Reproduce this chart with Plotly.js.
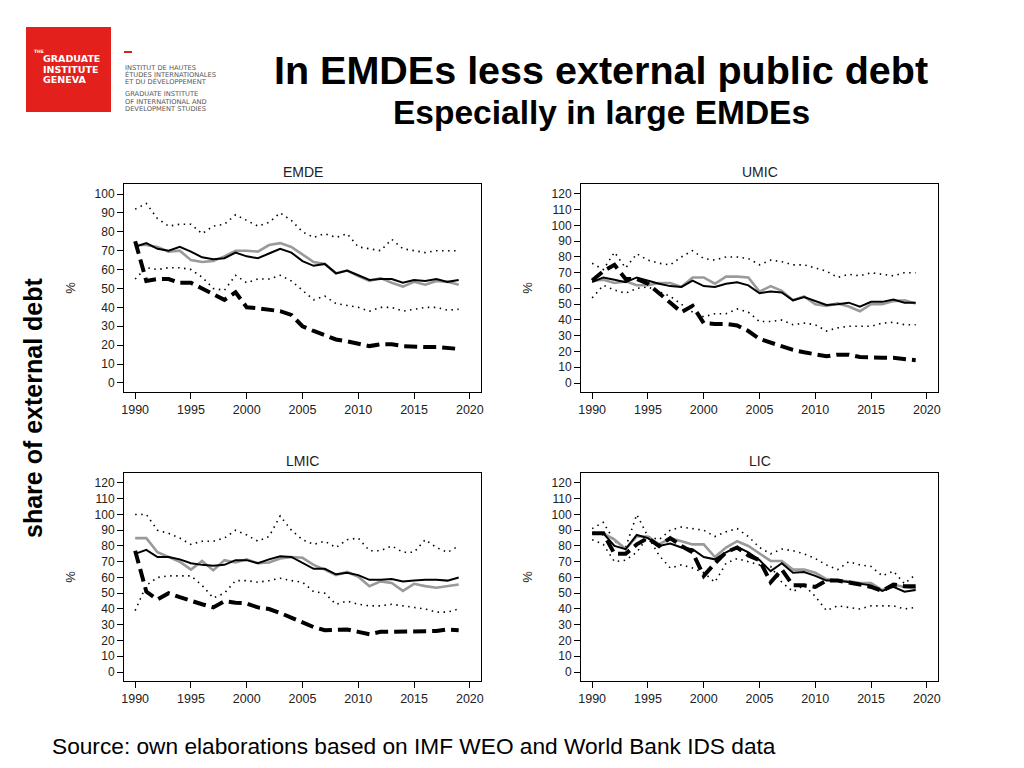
<!DOCTYPE html>
<html>
<head>
<meta charset="utf-8">
<script src="https://cdn.plot.ly/plotly-3.0.1.min.js"></script>
<style>html,body{margin:0;padding:0;background:#fff;}#chart{width:1024px;height:768px;}</style>
</head>
<body>
<div id="chart"></div>
<script>
var years = [1990,1991,1992,1993,1994,1995,1996,1997,1998,1999,2000,2001,2002,2003,2004,2005,2006,2007,2008,2009,2010,2011,2012,2013,2014,2015,2016,2017,2018,2019];
var xTicks = [1990,1995,2000,2005,2010,2015,2020];
var panelNames = ["EMDE","UMIC","LMIC","LIC"];

var emdeBlack  = [72,74,71,70,72,69.5,66.5,65.5,66,69,67,66,68.5,71,69,64.5,62,63,58,59.5,57,54.5,55,55,53,54.5,54,55,53.5,54.5];
var emdeGrey   = [73,73,72,69.5,70,65,64,64.5,67,70,70,69.5,73,74,72,68,64,63,58,59.5,56.5,54,55.5,53,51,53.5,52,54,53.5,52];
var emdeDashed = [75,54,55,55,53,53,50,47,44,48,40,39.5,39,38,36,30,27.5,25,23,22,20.5,19.5,20.5,20.5,19.5,19,19,19,18.5,18];
var emdeUpper  = [92,95,87,83,84,84,79,83,84,89,86,83,85,90,86,80,77,79,77,79,72,71,70,76,71,70,69,70,70,70];
var emdeLower  = [55,61,60,61,61,60,56,50,49,57,53,55,55,57,54,49,44,46,42,41,40,38,40,40,38,39,40,40,38.5,39];

var umicBlack  = [64,67,65.5,64,67,65,63,61.5,61,65,61.5,61,63,64,62,57,58,57.5,52.5,54.5,52,49.5,50,51,48.5,51.5,51.5,53,51,51];
var umicGrey   = [65,65.5,63.5,64.5,62,62,63.5,63.5,61,67,67,63,67.5,67.5,67,58,61.5,58.5,52.5,55,50,49,50.5,48.5,45.5,50,50,52,52.5,50.5];
var umicDashed = [65,71,75,66,66,63,57,51,45,49,38,37.5,37.5,36.5,33,28,25.5,23.5,21,19.5,18,17,18,18,16.5,16,16,16,15,14.5];
var umicUpper  = [76,72,83,73,82,78,76,75,80,84,79,78,80,80,79,75,78,77,75,75,73,71,67,69,68,70,69,68,70,70];
var umicLower  = [54,62,59,57,60,61,58,55,50,45,42,44,44,47,45,39,39,40,37,38,37,33,35,36,36,36,38,38.5,37,37];

var lmicBlack  = [75,77.5,73,73,71.5,69,68,67.5,68,71,71,69,71.5,73.5,73,69,65.5,65.5,62,63,61.5,58.5,58.5,59,57.5,58,58.5,58.5,58,60];
var lmicGrey   = [85,85,76,73,70,65,70.5,64.5,71,69.5,71.5,69,69.5,72,73,72.5,68,65,61.5,63.5,60.5,54.5,57.5,56.5,51.5,56,54.5,53.5,54.5,55.5];
var lmicDashed = [77,51,46,50,47.5,45,43,41,45,44,43.5,41,40,37.5,34.5,31,28.5,26.5,27,27,25.5,24,25.5,25.5,26,26,25.5,26,27,26.5];
var lmicUpper  = [100,100,90,88,85,81,83,83,85,90,87,83,86,99,90,84,81,83,79,84,85,77,77,80,76,76,84,79,76,80];
var lmicLower  = [39,55,60,61,61,61,55,47,50,58,58,57,58,59.5,58,57,51,50,43,45,43,42,42,43,42,41,40,38,38,40];

var licBlack   = [88,88,80,78,87,85,80,81.5,79,78,73,71.5,76,79.5,76,71,64,69,63,63.5,61,58,58,57,56,55,51.5,54,51,52];
var licGrey    = [88,88,84,78,86,86,81,85,83,81,81,73,79,83,80,75,70.5,70.5,65,65,63,59,58,57.5,56.5,56.5,52,55.5,54,53];
var licDashed  = [88,88,75,75,81,85,80,85,80,76,61,69,76,79,74,71,57,65,55,55,54,58,58,57,55.5,54,51.5,55.5,54.5,54.5];
var licUpper   = [91,95,83,79,100,86,84,90,92,91,90,86,89,91,86,79,75,78,77,75,72,68,65,70,68,67,61,64,56,62];
var licLower   = [84,81,70,71,76,86,74,66,68,66,63,57,69,72,70,68,67,57,51,55,48,39,42,41,40,42,42,42,40,41];

var panelSeries = [
  [emdeUpper, emdeLower, emdeGrey, emdeBlack, emdeDashed],
  [umicUpper, umicLower, umicGrey, umicBlack, umicDashed],
  [lmicUpper, lmicLower, lmicGrey, lmicBlack, lmicDashed],
  [licUpper, licLower, licGrey, licBlack, licDashed]
];
var yTopVals = [100, 120, 120, 120];

(function(){
var styles = [
  {color:'#000', width:1.6, dash:'1.5px,4.5px'},
  {color:'#000', width:1.6, dash:'1.5px,4.5px'},
  {color:'#9a9a9a', width:2.6, dash:'solid'},
  {color:'#000', width:2, dash:'solid'},
  {color:'#000', width:4, dash:'13px,6px'}
];

var W = 1024, H = 768;
function px(x){return x/W;}
function py(y){return 1 - y/H;}
var frames = [
  {x0:124, x1:481, y0:184, y1:392},
  {x0:581, x1:938, y0:184, y1:392},
  {x0:124, x1:481, y0:473, y1:681},
  {x0:581, x1:938, y0:473, y1:681}
];

var traces = [];
var layout = {
  width: W, height: H,
  margin: {l:0, r:0, t:0, b:0},
  paper_bgcolor:'#fff', plot_bgcolor:'#fff',
  showlegend:false,
  font:{family:'Liberation Sans, Arial, sans-serif', color:'#222'},
  annotations: [], shapes: []
};

for (var p = 0; p < 4; p++) {
  var suf = p === 0 ? '' : String(p+1);
  for (var s = 0; s < 5; s++) {
    traces.push({
      x: years, y: panelSeries[p][s], type:'scatter', mode:'lines',
      xaxis:'x'+suf, yaxis:'y'+suf,
      line:{color:styles[s].color, width:styles[s].width, dash:styles[s].dash},
      hoverinfo:'skip'
    });
  }
  var f = frames[p];
  var yTop = yTopVals[p];
  var padLo = yTop === 100 ? 4.8 : 5.7;
  var padHi = yTop === 100 ? 5.3 : 6.3;
  var yvals = [];
  for (var v = 0; v <= yTop; v += 10) yvals.push(v);
  layout['xaxis'+suf] = {
    domain:[px(f.x0), px(f.x1)], anchor:'y'+suf,
    range:[1989, 2021], tickvals:xTicks, ticks:'outside', ticklen:6, tickcolor:'#000',
    showline:true, mirror:true, linecolor:'#000', linewidth:1, showgrid:false, zeroline:false,
    tickfont:{size:12.5, color:'#222'}, fixedrange:true
  };
  layout['yaxis'+suf] = {
    domain:[py(f.y1), py(f.y0)], anchor:'x'+suf,
    range:[-padLo, yTop + padHi], tickvals:yvals, ticks:'outside', ticklen:6, tickcolor:'#000',
    showline:true, mirror:true, linecolor:'#000', linewidth:1, showgrid:false, zeroline:false,
    tickfont:{size:12, color:'#222'}, fixedrange:true,
    title:{text:'%', font:{size:13, color:'#222'}, standoff:16}
  };
  layout.annotations.push({
    xref:'paper', yref:'paper', x:px((f.x0+f.x1)/2), y:py(f.y0-12),
    text:panelNames[p], showarrow:false, xanchor:'center', yanchor:'middle',
    font:{size:14, color:'#222'}
  });
}

var narrow = 'Liberation Sans Narrow, Arial Narrow, Liberation Sans, sans-serif';
layout.annotations.push({xref:'paper', yref:'paper', x:px(601), y:py(70), text:'<b>In EMDEs less external public debt</b>', showarrow:false, xanchor:'center', yanchor:'middle', font:{family:narrow, size:39.5, color:'#000'}});
layout.annotations.push({xref:'paper', yref:'paper', x:px(601), y:py(113), text:'<b>Especially in large EMDEs</b>', showarrow:false, xanchor:'center', yanchor:'middle', font:{family:narrow, size:33.5, color:'#000'}});
layout.annotations.push({xref:'paper', yref:'paper', x:px(33), y:py(408), text:'<b>share of external debt</b>', textangle:-90, showarrow:false, xanchor:'center', yanchor:'middle', font:{size:25, color:'#000'}});
layout.annotations.push({xref:'paper', yref:'paper', x:px(50), y:py(746), text:'Source: own elaborations based on IMF WEO and World Bank IDS data', showarrow:false, xanchor:'left', yanchor:'middle', font:{size:22.7, color:'#000'}});

layout.shapes.push({type:'rect', xref:'paper', yref:'paper', x0:px(26), x1:px(111), y0:py(112), y1:py(27), fillcolor:'#e3201b', line:{width:0}, layer:'above'});
layout.shapes.push({type:'line', xref:'paper', yref:'paper', x0:px(124), x1:px(132), y0:py(52), y1:py(52), line:{color:'#e3201b', width:2}});
var logoWhite = [['THE',32,51,4.5],['GRADUATE',41,59,9.5],['INSTITUTE',41,69,9.5],['GENEVA',41,79,9.5]];
logoWhite.forEach(function(t){
  layout.annotations.push({xref:'paper', yref:'paper', x:px(t[1]), y:py(t[2]), text:'<b>'+t[0]+'</b>', showarrow:false, xanchor:'left', yanchor:'middle', font:{size:t[3], color:'#fff', family:'DejaVu Sans, sans-serif'}});
});
var logoGrey = [['INSTITUT DE HAUTES',67.5],['ÉTUDES INTERNATIONALES',74.5],['ET DU DÉVELOPPEMENT',81.5],['GRADUATE INSTITUTE',94],['OF INTERNATIONAL AND',101.5],['DEVELOPMENT STUDIES',109]];
logoGrey.forEach(function(t){
  layout.annotations.push({xref:'paper', yref:'paper', x:px(123), y:py(t[1]), text:t[0], showarrow:false, xanchor:'left', yanchor:'middle', font:{size:6.7, color:'#555', family:'DejaVu Sans, sans-serif'}});
});

Plotly.newPlot('chart', traces, layout, {displayModeBar:false, staticPlot:true});
})();
</script>
</body>
</html>
